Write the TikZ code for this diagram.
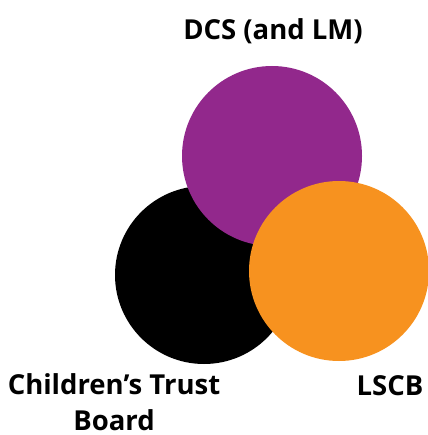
\documentclass[tikz,border=0pt]{standalone}
\usepackage{fontspec}
\setmainfont{Open Sans}
\definecolor{dcspurple}{HTML}{92288C}
\definecolor{lscborange}{HTML}{F7921F}
\begin{document}
\begin{tikzpicture}[x=1pt,y=-1pt,
  disc/.style={circle,inner sep=0pt,draw=none},
  label/.style={font=\fontsize{27.5}{36}\selectfont\bfseries,inner sep=0pt,anchor=base,align=center}]
\useasboundingbox (0,0) rectangle (427,435);
% the three overlapping bodies, back to front
\node[disc,fill=black,minimum size=178pt] (ctb) at (204,275) {};
\node[disc,fill=dcspurple,minimum size=180pt] (dcs) at (272,156) {};
\node[disc,fill=lscborange,minimum size=180pt] (lscb) at (339,271) {};
% captions (a two-line node sits on the baseline of its last line)
\node[label] (dcslabel) at (273,40) {DCS (and LM)};
\node[label] (ctblabel) at (114,430.5) {Children’s Trust\\Board};
\node[label] (lscblabel) at (390,395) {LSCB};
\end{tikzpicture}
\end{document}
